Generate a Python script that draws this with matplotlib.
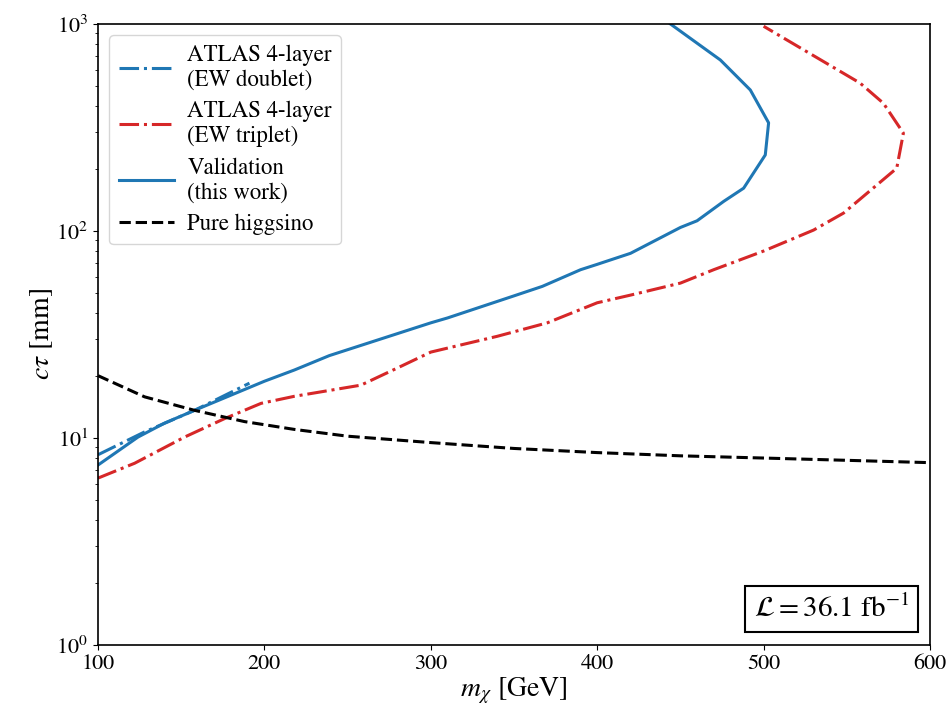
import matplotlib
matplotlib.use("Agg")
import matplotlib.pyplot as plt

plt.rcParams['font.family'] = ['STIXGeneral', 'DejaVu Serif']
plt.rcParams['mathtext.fontset'] = 'stix'

# ATLAS 4-layer, EW doublet
dbl_m = [100, 128, 158, 191]
dbl_ct = [8.3, 10.7, 13.6, 18.4]

# ATLAS 4-layer, EW triplet
trp_m = [100, 122, 152, 176, 198, 218, 230, 258, 280, 300, 340, 370, 400, 420, 450, 470, 500, 530, 548, 580, 584, 572, 558, 500]
trp_ct = [6.4, 7.55, 10.1, 12.4, 14.7, 15.9, 16.5, 18.0, 21.8, 26, 31, 36, 45, 49, 56, 65, 80, 101, 122, 201, 297, 414, 518, 975]

# Validation (this work)
val_m = [100, 124, 140, 158, 200, 218, 239, 300, 310, 350, 367, 390, 400, 420, 450, 460, 476, 488, 501, 503, 492, 474, 444]
val_ct = [7.4, 10.1, 11.8, 13.6, 18.8, 21.3, 25, 36, 38, 48.6, 54, 65, 69, 78, 104, 112, 139, 161, 233, 333, 480, 670, 1000]

# Pure higgsino
hig_m = [100, 128, 158, 188, 218, 250, 300, 350, 400, 450, 500, 550, 600]
hig_ct = [20, 15.8, 13.6, 12.0, 11.0, 10.2, 9.5, 8.9, 8.5, 8.2, 8.0, 7.8, 7.6]

fig = plt.figure(figsize=(9.49, 7.18), dpi=100)
ax = fig.add_axes([0.1033, 0.1017, 0.8767, 0.8649])

lw = 2.2
ax.plot(dbl_m, dbl_ct, '-.', color='#1f77b4', lw=lw, label='ATLAS 4-layer\n(EW doublet)')
ax.plot(trp_m, trp_ct, '-.', color='#d62728', lw=lw, label='ATLAS 4-layer\n(EW triplet)')
ax.plot(val_m, val_ct, '-', color='#1f77b4', lw=lw, label='Validation\n(this work)')
ax.plot(hig_m, hig_ct, '--', color='black', lw=lw, label='Pure higgsino')

ax.set_yscale('log')
ax.set_xlim(100, 600)
ax.set_ylim(1, 1000)
ax.set_xlabel(r'$m_\chi$ [GeV]', fontsize=20, labelpad=1)
ax.set_ylabel(r'$c\tau$ [mm]', fontsize=20, labelpad=1)
ax.tick_params(axis='both', which='major', labelsize=16)
for s in ax.spines.values():
    s.set_linewidth(1.2)

leg = ax.legend(loc='upper left', fontsize=16.5, frameon=True, borderaxespad=0.5,
                handlelength=2.4, labelspacing=0.45, handletextpad=0.6)

ax.text(0.975, 0.035, r'$\mathcal{L} = 36.1\ \mathrm{fb}^{-1}$', transform=ax.transAxes,
        ha='right', va='bottom', fontsize=21,
        bbox=dict(boxstyle='square,pad=0.3', facecolor='white', edgecolor='black', lw=1.5))

fig.savefig('out.png', dpi=100)
